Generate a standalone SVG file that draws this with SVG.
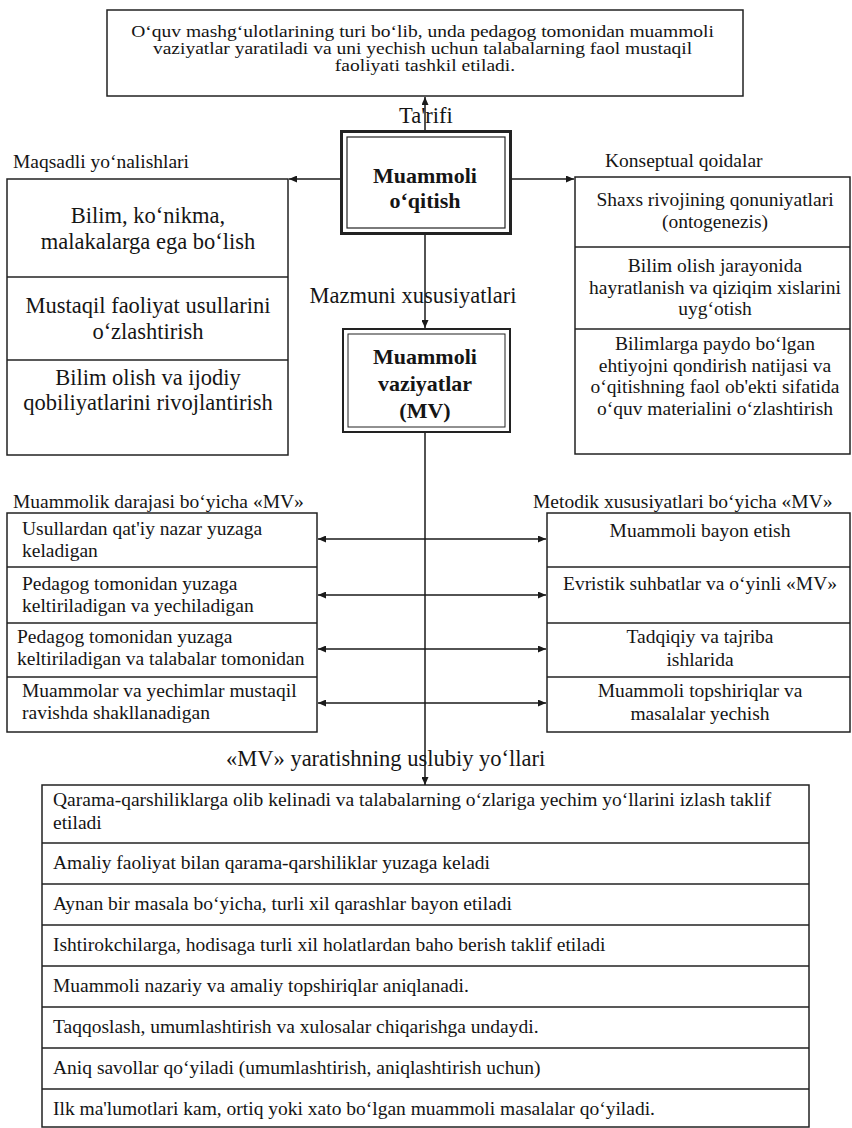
<svg xmlns="http://www.w3.org/2000/svg" width="852" height="1128" viewBox="0 0 852 1128">
  <style>
    text { font-family: "Liberation Serif", "Times New Roman", serif; fill: #151515; }
    .box { fill: #ffffff; stroke: #222222; stroke-width: 1.5; }
    .row { fill: none; stroke: #222222; stroke-width: 1.5; }
    .f16 { font-size: 16px; }
    .f19 { font-size: 19.5px; }
    .f22 { font-size: 22.5px; }
    .bold { font-size: 22px; font-weight: bold; }
    .mid { text-anchor: middle; }
    .wire { stroke: #1a1a1a; stroke-width: 1.5; fill: none; }
    .arr { marker-end: url(#head); }
    .dbl { marker-start: url(#head); marker-end: url(#head); }
  </style>
  <defs>
    <marker id="head" viewBox="0 0 8 7" refX="8" refY="3.5" markerWidth="8" markerHeight="7" markerUnits="userSpaceOnUse" orient="auto-start-reverse">
      <path d="M0,0 L8,3.5 L0,7 z" fill="#1a1a1a"/>
    </marker>
  </defs>
  <rect width="852" height="1128" fill="#ffffff"/>

  <!-- definition box -->
  <g id="definition">
    <rect class="box" x="107" y="10" width="636" height="86"/>
    <text class="f16 mid" transform="translate(425 0) scale(1.22 1)">
      <tspan x="0" y="37">O‘quv mashg‘ulotlarining turi bo‘lib, unda pedagog tomonidan muammoli</tspan>
      <tspan x="0" y="54">vaziyatlar yaratiladi va uni yechish uchun talabalarning faol mustaqil</tspan>
      <tspan x="0" y="71">faoliyati tashkil etiladi.</tspan>
    </text>
  </g>

  <!-- central node: problem-based teaching -->
  <g id="muammoli-oqitish">
    <rect x="341.5" y="131.5" width="169" height="102" fill="#ffffff" stroke="#222222" stroke-width="3"/>
    <rect x="347" y="137" width="158" height="91" fill="none" stroke="#222222" stroke-width="1.2"/>
    <text class="bold mid" x="425" y="183">Muammoli</text>
    <text class="bold mid" x="425" y="208">o‘qitish</text>
  </g>

  <!-- goals -->
  <g id="maqsadli">
    <text class="f19" x="13" y="168">Maqsadli yo‘nalishlari</text>
    <rect class="box" x="7" y="179" width="281" height="276"/>
    <line class="row" x1="7" y1="277" x2="288" y2="277"/>
    <line class="row" x1="7" y1="360" x2="288" y2="360"/>
    <text class="f22 mid" x="148" y="223">Bilim, ko‘nikma,</text>
    <text class="f22 mid" x="148" y="249">malakalarga ega bo‘lish</text>
    <text class="f22 mid" x="148" y="313">Mustaqil faoliyat usullarini</text>
    <text class="f22 mid" x="148" y="339">o‘zlashtirish</text>
    <text class="f22 mid" x="148" y="385">Bilim olish va ijodiy</text>
    <text class="f22 mid" x="148" y="410">qobiliyatlarini rivojlantirish</text>
  </g>

  <!-- conceptual rules -->
  <g id="konseptual">
    <text class="f19" x="605" y="167">Konseptual qoidalar</text>
    <rect class="box" x="575" y="177" width="275" height="277"/>
    <line class="row" x1="575" y1="247" x2="850" y2="247"/>
    <line class="row" x1="575" y1="329" x2="850" y2="329"/>
    <text class="f19 mid" x="715" y="206">Shaxs rivojining qonuniyatlari</text>
    <text class="f19 mid" x="715" y="228">(ontogenezis)</text>
    <text class="f19 mid" x="715" y="272">Bilim olish jarayonida</text>
    <text class="f19 mid" x="715" y="294">hayratlanish va qiziqim xislarini</text>
    <text class="f19 mid" x="715" y="315">uyg‘otish</text>
    <text class="f19 mid" x="715" y="350">Bilimlarga paydo bo‘lgan</text>
    <text class="f19 mid" x="715" y="372">ehtiyojni qondirish natijasi va</text>
    <text class="f19 mid" x="715" y="393">o‘qitishning faol ob'ekti sifatida</text>
    <text class="f19 mid" x="715" y="415">o‘quv materialini o‘zlashtirish</text>
  </g>

  <!-- problem situations node -->
  <g id="muammoli-vaziyatlar">
    <rect x="343" y="329" width="167" height="103" fill="#ffffff" stroke="#222222" stroke-width="2"/>
    <rect x="348" y="334" width="157" height="93" fill="none" stroke="#222222" stroke-width="1"/>
    <text class="bold mid" x="425" y="364">Muammoli</text>
    <text class="bold mid" x="425" y="391">vaziyatlar</text>
    <text class="bold mid" x="425" y="418">(MV)</text>
  </g>

  <!-- by level of problem -->
  <g id="muammolik-darajasi">
    <text class="f19" x="13" y="508">Muammolik darajasi bo‘yicha «MV»</text>
    <rect class="box" x="7" y="513" width="310" height="219"/>
    <line class="row" x1="7" y1="567" x2="317" y2="567"/>
    <line class="row" x1="7" y1="623" x2="317" y2="623"/>
    <line class="row" x1="7" y1="677" x2="317" y2="677"/>
    <text class="f19" x="22" y="535">Usullardan qat'iy nazar yuzaga</text>
    <text class="f19" x="22" y="557">keladigan</text>
    <text class="f19" x="22" y="590">Pedagog tomonidan yuzaga</text>
    <text class="f19" x="22" y="612">keltiriladigan va yechiladigan</text>
    <text class="f19" x="17" y="643">Pedagog tomonidan yuzaga</text>
    <text class="f19" x="17" y="665">keltiriladigan va talabalar tomonidan</text>
    <text class="f19" x="22" y="697">Muammolar va yechimlar mustaqil</text>
    <text class="f19" x="22" y="719">ravishda shakllanadigan</text>
  </g>

  <!-- by methodical features -->
  <g id="metodik">
    <text class="f19" x="533" y="508">Metodik xususiyatlari bo‘yicha «MV»</text>
    <rect class="box" x="547" y="513" width="303" height="219"/>
    <line class="row" x1="547" y1="567" x2="850" y2="567"/>
    <line class="row" x1="547" y1="623" x2="850" y2="623"/>
    <line class="row" x1="547" y1="677" x2="850" y2="677"/>
    <text class="f19 mid" x="700" y="537">Muammoli bayon etish</text>
    <text class="f19 mid" x="700" y="590">Evristik suhbatlar va o‘yinli «MV»</text>
    <text class="f19 mid" x="700" y="643">Tadqiqiy va tajriba</text>
    <text class="f19 mid" x="700" y="666">ishlarida</text>
    <text class="f19 mid" x="700" y="697">Muammoli topshiriqlar va</text>
    <text class="f19 mid" x="700" y="720">masalalar yechish</text>
  </g>

  <!-- methodical ways of creating problem situations -->
  <g id="uslubiy-yollar">
    <rect class="box" x="42" y="785" width="767" height="342"/>
    <line class="row" x1="42" y1="843" x2="809" y2="843"/>
    <line class="row" x1="42" y1="884" x2="809" y2="884"/>
    <line class="row" x1="42" y1="925" x2="809" y2="925"/>
    <line class="row" x1="42" y1="966" x2="809" y2="966"/>
    <line class="row" x1="42" y1="1007" x2="809" y2="1007"/>
    <line class="row" x1="42" y1="1048" x2="809" y2="1048"/>
    <line class="row" x1="42" y1="1089" x2="809" y2="1089"/>
    <text class="f19" x="53" y="806">Qarama-qarshiliklarga olib kelinadi va talabalarning o‘zlariga yechim yo‘llarini izlash taklif</text>
    <text class="f19" x="53" y="829">etiladi</text>
    <text class="f19" x="53" y="869">Amaliy faoliyat bilan qarama-qarshiliklar yuzaga keladi</text>
    <text class="f19" x="53" y="910">Aynan bir masala bo‘yicha, turli xil qarashlar bayon etiladi</text>
    <text class="f19" x="53" y="951">Ishtirokchilarga, hodisaga turli xil holatlardan baho berish taklif etiladi</text>
    <text class="f19" x="53" y="992">Muammoli nazariy va amaliy topshiriqlar aniqlanadi.</text>
    <text class="f19" x="53" y="1033">Taqqoslash, umumlashtirish va xulosalar chiqarishga undaydi.</text>
    <text class="f19" x="53" y="1074">Aniq savollar qo‘yiladi (umumlashtirish, aniqlashtirish uchun)</text>
    <text class="f19" x="53" y="1115">Ilk ma'lumotlari kam, ortiq yoki xato bo‘lgan muammoli masalalar qo‘yiladi.</text>
  </g>

  <!-- connector labels -->
  <g id="labels">
    <text class="f22" x="399" y="123">Ta'rifi</text>
    <text class="f22 mid" x="413" y="303">Mazmuni xususiyatlari</text>
    <text class="f22" x="226" y="766">«MV» yaratishning uslubiy yo‘llari</text>
  </g>

  <!-- connectors -->
  <g id="connectors">
    <line class="wire arr" x1="425" y1="130" x2="425" y2="97"/>
    <line class="wire arr" x1="340" y1="179" x2="289" y2="179"/>
    <line class="wire arr" x1="512" y1="179" x2="574" y2="179"/>
    <line class="wire arr" x1="425" y1="235" x2="425" y2="328"/>
    <line class="wire arr" x1="425" y1="433" x2="425" y2="785"/>
    <line class="wire dbl" x1="318" y1="539" x2="546" y2="539"/>
    <line class="wire dbl" x1="318" y1="595" x2="546" y2="595"/>
    <line class="wire dbl" x1="318" y1="649" x2="546" y2="649"/>
    <line class="wire dbl" x1="318" y1="703" x2="546" y2="703"/>
  </g>
</svg>
